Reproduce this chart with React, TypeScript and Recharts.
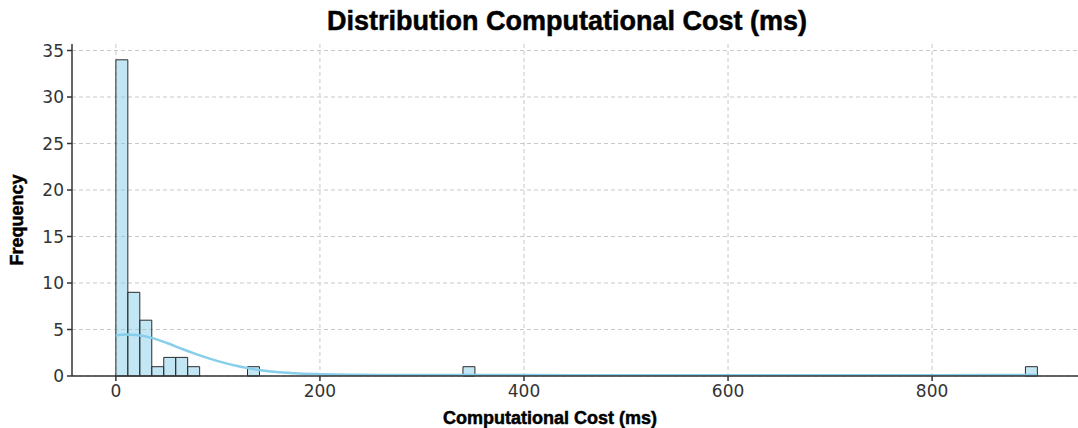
import { CartesianGrid, ComposedChart, Line, ReferenceArea, XAxis, YAxis } from "recharts";

// histogram bins (ms) and counts
const binStart = [0, 11.73, 23.46, 35.19, 46.92, 58.65, 70.38, 129.03, 340.17, 891.48];
const binEnd = [11.73, 23.46, 35.19, 46.92, 58.65, 70.38, 82.11, 140.76, 351.9, 903.21];
const binCount = [34, 9, 6, 1, 2, 2, 1, 1, 1, 1];

// kde curve
const kdeCost = [0, 10, 20, 35, 50, 65, 80, 100, 120, 140, 160, 180, 200, 230, 260, 300, 345, 400, 500, 600, 700, 800, 860, 903];
const kdeFreq = [4.35, 4.45, 4.4, 4.1, 3.55, 2.9, 2.3, 1.6, 1.05, 0.65, 0.4, 0.27, 0.2, 0.14, 0.12, 0.1, 0.11, 0.1, 0.08, 0.07, 0.07, 0.08, 0.1, 0.12];

const xTicks = [0, 200, 400, 600, 800];
const yTicks = [0, 5, 10, 15, 20, 25, 30, 35];

const kdeData = kdeCost.map((c, i) => ({ cost: c, kde: kdeFreq[i] }));

const tickStyle = { fontFamily: "DejaVu Sans", fontSize: 17, fill: "#333" };

const heavy = {
  fontFamily: "Liberation Sans",
  fontWeight: 900,
  color: "#000",
  WebkitTextStroke: "0.5px #000",
} as const;

export default function App() {
  return (
    <div style={{ position: "absolute", left: 0, top: 0, width: 1078, height: 428, background: "#fff" }}>
      <div
        style={{
          ...heavy,
          position: "absolute",
          left: 0,
          width: 1078,
          top: 6,
          textAlign: "center",
          fontSize: 27,
          paddingLeft: 56,
          boxSizing: "border-box",
        }}
      >
        Distribution Computational Cost (ms)
      </div>
      <div
        style={{
          ...heavy,
          position: "absolute",
          left: 0,
          width: 1100,
          top: 409,
          lineHeight: "18px",
          textAlign: "center",
          fontSize: 18,
        }}
      >
        Computational Cost (ms)
      </div>
      <div
        style={{
          ...heavy,
          position: "absolute",
          left: 17,
          top: 220,
          transform: "translate(-50%, -50%) rotate(-90deg)",
          fontSize: 18,
          whiteSpace: "nowrap",
        }}
      >
        Frequency
      </div>
      <ComposedChart width={1078} height={428} margin={{ top: 44, right: 0, bottom: 0, left: 32 }}>
        <CartesianGrid stroke="#c8c8c8" strokeDasharray="4 3" verticalValues={xTicks} horizontalValues={yTicks} />
        <XAxis
          type="number"
          dataKey="cost"
          domain={[-43, 943]}
          ticks={xTicks}
          allowDataOverflow
          height={52}
          tick={tickStyle}
          tickSize={5}
          tickMargin={4}
          stroke="#333"
          strokeWidth={1.5}
        />
        <YAxis
          type="number"
          domain={[0, 35.7]}
          ticks={yTicks}
          allowDataOverflow
          width={40}
          tick={tickStyle}
          tickSize={5}
          tickMargin={3}
          stroke="#333"
          strokeWidth={1.5}
        />
        {binCount.map((n, i) => (
          <ReferenceArea
            key={i}
            x1={binStart[i]}
            x2={binEnd[i]}
            y1={0}
            y2={n}
            fill="#87CEEB"
            fillOpacity={0.5}
            stroke="#2b2b2b"
            strokeWidth={1}
            strokeOpacity={1}
          />
        ))}
        <Line
          data={kdeData}
          dataKey="kde"
          type="monotone"
          stroke="#87CEEB"
          strokeWidth={2.5}
          dot={false}
          activeDot={false}
          isAnimationActive={false}
        />
      </ComposedChart>
    </div>
  );
}
